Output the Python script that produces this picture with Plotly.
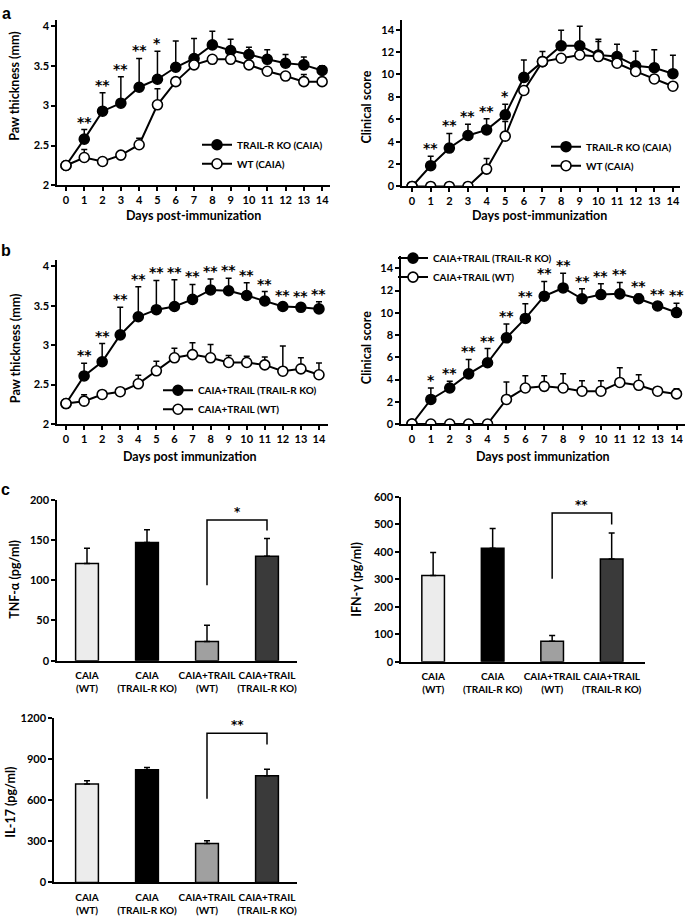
import plotly.graph_objects as go

W, H = 688, 923
FONT = "Lato"
STAR_FONT = "DejaVu Sans"

# ---------------- data ----------------
days = list(range(15))

# Panel a (left): paw thickness, CAIA
a_paw_ko = [2.25, 2.58, 2.93, 3.03, 3.23, 3.33, 3.48, 3.59, 3.76, 3.69, 3.64, 3.58, 3.53, 3.51, 3.44]
a_paw_ko_err = [0, .12, .23, .33, .36, .35, .33, .25, .17, .14, .09, .12, .11, .10, .06]
a_paw_wt = [2.25, 2.35, 2.30, 2.38, 2.51, 3.01, 3.30, 3.51, 3.58, 3.58, 3.51, 3.43, 3.37, 3.30, 3.30]
a_paw_wt_err = [0, .10, 0, 0, .08, .20, 0, 0, 0, 0, 0, 0, 0, .09, 0]
a_paw_stars = ["", "**", "**", "**", "**", "*", "", "", "", "", "", "", "", "", ""]

# Panel a (right): clinical score, CAIA
a_cs_ko = [0, 1.85, 3.43, 4.55, 5.05, 6.40, 9.74, 11.15, 12.56, 12.56, 11.74, 11.6, 10.77, 10.6, 10.07]
a_cs_ko_err = [0, .85, 1.3, 1.0, 1.0, .95, 1.55, .9, 1.4, 1.75, 1.4, 1.1, 1.3, 1.6, 1.65]
a_cs_wt = [0, 0, 0, 0, 1.55, 4.49, 8.57, 11.15, 11.45, 11.74, 11.6, 11.0, 10.27, 9.6, 8.95]
a_cs_wt_err = [0, 0, 0, 0, .95, 1.3, 0, 0, 0, 0, 1.35, 0, 0, 0, 0]
a_cs_stars = ["", "**", "**", "**", "**", "*", "", "", "", "", "", "", "", "", ""]

# Panel b (left): paw thickness, CAIA+TRAIL
b_paw_ko = [2.26, 2.61, 2.79, 3.13, 3.36, 3.45, 3.49, 3.58, 3.70, 3.69, 3.63, 3.56, 3.49, 3.48, 3.46]
b_paw_ko_err = [0, .16, .23, .35, .38, .37, .34, .19, .14, .16, .16, .12, .04, .04, .09]
b_paw_wt = [2.26, 2.29, 2.375, 2.41, 2.51, 2.675, 2.84, 2.88, 2.84, 2.78, 2.78, 2.75, 2.67, 2.70, 2.625]
b_paw_wt_err = [0, .08, 0, 0, .11, .12, .12, .15, .17, .09, .08, .10, .32, .14, .15]
b_paw_stars = [""] + ["**"] * 14

# Panel b (right): clinical score, CAIA+TRAIL
b_cs_ko = [0, 2.21, 3.24, 4.51, 5.51, 7.75, 9.49, 11.49, 12.23, 11.26, 11.64, 11.70, 11.26, 10.61, 10.02]
b_cs_ko_err = [0, 1.03, .6, 1.3, 1.27, 1.24, 1.33, 1.33, 1.32, .9, .97, 1.03, .4, .35, .83]
b_cs_wt = [0, 0, 0, 0, 0, 2.21, 3.24, 3.39, 3.24, 2.95, 2.95, 3.74, 3.48, 2.95, 2.71]
b_cs_wt_err = [0, 0, 0, 0, 0, 1.56, 1.09, .94, 1.27, .94, .94, 1.33, .94, 0, .47]
b_cs_stars = ["", "*"] + ["**"] * 13

# Panel c: cytokines
groups = ["CAIA<br>(WT)", "CAIA<br>(TRAIL-R KO)", "CAIA+TRAIL<br>(WT)", "CAIA+TRAIL<br>(TRAIL-R KO)"]
bar_colors = ["#ececec", "#000000", "#a0a0a0", "#3a3a3a"]
tnf = [121, 147, 24, 130]
tnf_err = [19, 16, 20, 22]
ifn = [314, 413, 74, 374]
ifn_err = [84, 72, 21, 95]
il17 = [718, 821, 284, 778]
il17_err = [24, 17, 21, 48]
# bracket: [left foot, top, right foot]
tnf_bracket = [94, 175, 162]
ifn_bracket = [302, 542, 500]
il17_bracket = [610, 1088, 1005]
tnf_sig, ifn_sig, il17_sig = "*", "**", "**"

# ---------------- helpers ----------------
def fx(p):
    return p / W

def fy(p):
    return 1 - p / H

tickfont = dict(family=FONT, size=11, color="black", weight="bold")

def axis(domain, rng, anchor, **kw):
    d = dict(domain=domain, range=rng, anchor=anchor, showline=True, linecolor="black",
             linewidth=1.5, ticks="outside", ticklen=4, tickwidth=1.5, tickcolor="black",
             showgrid=False, zeroline=False, tickfont=tickfont, fixedrange=True)
    d.update(kw)
    return d

fig = go.Figure()
annotations = []
shapes = []

star_font = dict(family=STAR_FONT, size=14, color="black", weight="bold")

def line_panel(n, ko, ko_err, wt, wt_err, stars, ko_name, wt_name, legend):
    xa, ya = ("x" if n == 1 else f"x{n}"), ("y" if n == 1 else f"y{n}")
    for vals, err, fill, name in [(ko, ko_err, "black", ko_name), (wt, wt_err, "white", wt_name)]:
        fig.add_trace(go.Scatter(
            x=days, y=vals, mode="lines+markers", name=name, xaxis=xa, yaxis=ya,
            legend=legend,
            line=dict(color="black", width=2),
            marker=dict(symbol="circle", size=10, color=fill, line=dict(color="black", width=1.6)),
            error_y=dict(type="data", symmetric=False, array=err, arrayminus=[0] * len(err),
                         color="black", thickness=1.5, width=3),
        ))
    for d, s, v, e in zip(days, stars, ko, ko_err):
        if s:
            annotations.append(dict(x=d, y=v + e, xref=xa, yref=ya, text=s, showarrow=False,
                                    yanchor="bottom", yshift=-2, font=star_font))

def bar_panel(n, vals, err, bracket, sig):
    xa, ya = f"x{n}", f"y{n}"
    fig.add_trace(go.Bar(
        x=[0, 1, 2, 3], y=vals, xaxis=xa, yaxis=ya, width=0.38, showlegend=False,
        marker=dict(color=bar_colors, line=dict(color="black", width=1.5)),
        error_y=dict(type="data", symmetric=False, array=err, arrayminus=[0] * 4,
                     color="black", thickness=1.5, width=3),
    ))
    lf, top, rf = bracket
    shapes.append(dict(type="path", xref=xa, yref=ya,
                       path=f"M 2 {lf} L 2 {top} L 3 {top} L 3 {rf}",
                       line=dict(color="black", width=1.5)))
    annotations.append(dict(x=2.5, y=top, xref=xa, yref=ya, text=sig, showarrow=False,
                            yanchor="bottom", yshift=-1,
                            font=dict(family=STAR_FONT, size=12, color="black", weight="bold")))

line_panel(1, a_paw_ko, a_paw_ko_err, a_paw_wt, a_paw_wt_err, a_paw_stars,
           "TRAIL-R KO (CAIA)", "WT (CAIA)", "legend")
line_panel(2, a_cs_ko, a_cs_ko_err, a_cs_wt, a_cs_wt_err, a_cs_stars,
           "TRAIL-R KO (CAIA)", "WT (CAIA)", "legend2")
line_panel(3, b_paw_ko, b_paw_ko_err, b_paw_wt, b_paw_wt_err, b_paw_stars,
           "CAIA+TRAIL (TRAIL-R KO)", "CAIA+TRAIL (WT)", "legend3")
line_panel(4, b_cs_ko, b_cs_ko_err, b_cs_wt, b_cs_wt_err, b_cs_stars,
           "CAIA+TRAIL (TRAIL-R KO)", "CAIA+TRAIL (WT)", "legend4")
bar_panel(5, tnf, tnf_err, tnf_bracket, tnf_sig)
bar_panel(6, ifn, ifn_err, ifn_bracket, ifn_sig)
bar_panel(7, il17, il17_err, il17_bracket, il17_sig)

day_ticks = dict(tickmode="array", tickvals=days, ticktext=[str(d) for d in days], tickangle=0)
bar_ticks = dict(tickmode="array", tickvals=[0, 1, 2, 3], ticktext=groups, tickangle=0,
                 ticks="outside", ticklen=5, tickcolor="rgba(0,0,0,0)",
                 tickfont=dict(family=FONT, size=10, color="black", weight="bold"))

leg_font = dict(family=FONT, size=10, color="black", weight="bold")
def leg(x, y):
    return dict(x=fx(x), y=fy(y), xanchor="left", yanchor="top", bgcolor="rgba(0,0,0,0)",
                font=leg_font, itemwidth=30, tracegroupgap=0, traceorder="normal")

layout = dict(
    width=W, height=H, margin=dict(l=0, r=0, t=0, b=0),
    paper_bgcolor="white", plot_bgcolor="white",
    font=dict(family=FONT, color="black"),
    xaxis=axis([fx(57), fx(330)], [-0.49, 14.43], "y", **day_ticks),
    yaxis=axis([fy(181), fy(13)], [2, 2 + 168 / 81], "x", tickvals=[2, 2.5, 3, 3.5, 4],
               ticktext=["2", "2.5", "3", "3.5", "4"]),
    xaxis2=axis([fx(402), fx(680)], [-0.54, 14.38], "y2", **day_ticks),
    yaxis2=axis([fy(182), fy(13)], [0, 169 / (159 / 14)], "x2", dtick=2),
    xaxis3=axis([fx(57), fx(328)], [-0.5, 14.5], "y3", **day_ticks),
    yaxis3=axis([fy(423), fy(257)], [2, 2 + 166 / 80], "x3", tickvals=[2, 2.5, 3, 3.5, 4],
                ticktext=["2", "2.5", "3", "3.5", "4"]),
    xaxis4=axis([fx(401), fx(685)], [-0.58, 14.45], "y4", **day_ticks),
    yaxis4=axis([fy(423), fy(253)], [0, 170 / (158 / 14)], "x4", dtick=2),
    xaxis5=axis([fx(57), fx(297)], [-0.5, 3.5], "y5", **bar_ticks),
    yaxis5=axis([fy(663), fy(500)], [0, 200], "x5", dtick=50),
    xaxis6=axis([fx(401), fx(645)], [-0.54, 3.56], "y6", **bar_ticks),
    yaxis6=axis([fy(664), fy(497)], [0, 600], "x6", dtick=100),
    xaxis7=axis([fx(54), fx(297)], [-0.55, 3.5], "y7", **bar_ticks),
    yaxis7=axis([fy(888), fy(721)], [0, 1200], "x7", dtick=300),
    legend=leg(197, 125),
    legend2=leg(546, 127),
    legend3=leg(158, 374),
    legend4=leg(393, 240),
    showlegend=True,
    bargap=0.3,
)

title_font = dict(family=FONT, size=12.5, color="black", weight="bold")
def ytitle(text, x, y):
    annotations.append(dict(x=fx(x), y=fy(y), xref="paper", yref="paper", text=text,
                            textangle=-90, showarrow=False, xanchor="center", yanchor="middle",
                            font=title_font))

def xtitle(text, x, y):
    annotations.append(dict(x=fx(x), y=fy(y), xref="paper", yref="paper", text=text,
                            showarrow=False, xanchor="center", yanchor="middle", font=title_font))

def letter(text, x, y):
    annotations.append(dict(x=fx(x), y=fy(y), xref="paper", yref="paper", text=text,
                            showarrow=False, xanchor="center", yanchor="middle",
                            font=dict(family="Liberation Sans", size=16, color="black", weight="bold")))

ytitle("Paw thickness (mm)", 15, 80)
ytitle("Clinical score", 367, 101)
ytitle("Paw thickness (mm)", 15, 346)
ytitle("Clinical score", 366, 345)
ytitle("TNF-α (pg/ml)", 15, 581)
ytitle("IFN-γ (pg/ml)", 357, 581)
ytitle("IL-17 (pg/ml)", 11, 807)
xtitle("Days post-immunization", 193, 211)
xtitle("Days post-immunization", 539, 211)
xtitle("Days post immunization", 190, 456)
xtitle("Days post immunization", 543, 456)
letter("a", 6, 7)
letter("b", 6, 247)
letter("c", 5, 489)

layout["annotations"] = annotations
layout["shapes"] = shapes
fig.update_layout(**layout)

fig.write_html("out.html", config={"displayModeBar": False},
               post_script="document.body.style.margin='0';document.body.style.overflow='hidden';")
